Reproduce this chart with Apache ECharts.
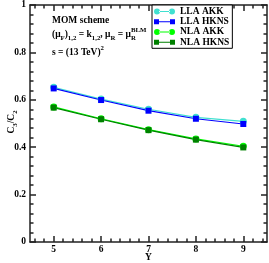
<!DOCTYPE html>
<html><head><meta charset="utf-8">
<script src="https://cdn.jsdelivr.net/npm/echarts@6/dist/echarts.min.js"></script>
<style>html,body{margin:0;padding:0;background:#fff}#c{width:269px;height:263px}</style>
</head><body><div id="c"></div>
<script>
var xValues = [5, 6, 7, 8, 9];
var llaAKK  = [0.653, 0.603, 0.560, 0.526, 0.509];
var llaHKNS = [0.648, 0.599, 0.554, 0.520, 0.498];
var nlaAKK  = [0.570, 0.520, 0.474, 0.435, 0.404];
var nlaHKNS = [0.567, 0.518, 0.472, 0.432, 0.399];
var seriesNames = ['LLA AKK', 'LLA HKNS', 'NLA AKK', 'NLA HKNS'];
var xMajor = [5, 6, 7, 8, 9];
var xTitle = 'Y';

var xMinor = [];
for (var k = 23; k <= 47; k++) { if (k % 5 !== 0) xMinor.push(Math.round(k * 2) / 10); }

var FF = "'Liberation Serif', 'DejaVu Serif', serif";
var FS = 9.5, FSS = 6.8;
var AX = '#222';

function pairs(v) { return xValues.map(function (x, i) { return [x, v[i]]; }); }

var circIcon = 'path://M0,3a3,3 0 1,0 6,0a3,3 0 1,0 -6,0Z M15,3a3,3 0 1,0 6,0a3,3 0 1,0 -6,0Z M5,2.5L16,2.5L16,3.5L5,3.5Z';
var sqIcon = 'path://M0,0.5L5,0.5L5,5.5L0,5.5Z M16,0.5L21,0.5L21,5.5L16,5.5Z M4,2.5L17,2.5L17,3.5L4,3.5Z';

function xAx(pos, vals, len, line, labels) {
  return {
    type: 'value', position: pos, min: 4.5, max: 9.5,
    axisLine: { show: line, onZero: false, lineStyle: { color: AX, width: 1.5 } },
    axisTick: { show: true, inside: true, length: len, customValues: vals, lineStyle: { color: AX, width: 1.5 } },
    axisLabel: labels ? { show: true, customValues: vals, margin: 3, color: '#000', fontFamily: FF, fontWeight: 'bold', fontSize: FS } : { show: false },
    splitLine: { show: false }
  };
}
function yAx(pos, labels) {
  return {
    type: 'value', position: pos, min: 0, max: 1, interval: 0.2,
    axisLine: { show: true, onZero: false, lineStyle: { color: AX, width: 1.5 } },
    axisTick: { show: true, inside: true, length: 6, lineStyle: { color: AX, width: 1.5 } },
    minorTick: { show: true, splitNumber: 5, length: 3.5, lineStyle: { color: AX, width: 1.5 } },
    axisLabel: labels ? { show: true, margin: 4, color: '#000', fontFamily: FF, fontWeight: 'bold', fontSize: FS } : { show: false },
    splitLine: { show: false }, minorSplitLine: { show: false }
  };
}

var colors = ['#40e0d0', '#0000ff', '#00ff00', '#008000'];
var symbols = ['circle', 'rect', 'circle', 'rect'];
var datas = [llaAKK, llaHKNS, nlaAKK, nlaHKNS];

var series = datas.map(function (d, i) {
  return {
    name: seriesNames[i], type: 'line', data: pairs(d),
    xAxisIndex: 0, yAxisIndex: 0,
    symbol: symbols[i], symbolSize: symbols[i] === 'rect' ? 6 : 7,
    itemStyle: { color: colors[i] },
    lineStyle: { color: colors[i], width: 1.2 },
    animation: false
  };
});

var rich = {
  n: { fontFamily: FF, fontWeight: 'bold', fontSize: FS, lineHeight: 14, fill: '#000' },
  s: { fontFamily: FF, fontWeight: 'bold', fontSize: FSS, lineHeight: 7, padding: [7, 0, 0, 0], fill: '#000' },
  p: { fontFamily: FF, fontWeight: 'bold', fontSize: FSS, lineHeight: 7, padding: [0, 0, 8, 0], fill: '#000' }
};

var cv = document.createElement('canvas').getContext('2d');
function tw(t, sz) { cv.font = 'bold ' + sz + 'px ' + FF; return cv.measureText(t).width; }
var line2 = [['(μ', 0], ['F', 1], [')', 0], ['1,2', 1], [' = k', 0], ['1,2', 1], [', μ', 0], ['R', 1], [' = μ', 0]];
var pre = 0;
line2.forEach(function (t) { pre += tw(t[0], t[1] ? FSS : FS); });
var TX = 52;

var chart = echarts.init(document.getElementById('c'), null, { renderer: 'canvas' });
chart.setOption({
  backgroundColor: '#fff',
  animation: false,
  grid: { left: 30, right: 2, top: 5, bottom: 21, containLabel: false, outerBoundsMode: 'none' },
  xAxis: [xAx('bottom', xMajor, 6, true, true), xAx('bottom', xMinor, 3.5, false, false),
          xAx('top', xMajor, 6, true, false), xAx('top', xMinor, 3.5, false, false)],
  yAxis: [yAx('left', true), yAx('right', false)],
  legend: {
    orient: 'vertical', left: 152, top: 5,
    padding: [1.5, 3, 1, 2], itemGap: 0, itemWidth: 21, itemHeight: 6,
    borderColor: '#000', borderWidth: 1, borderRadius: 0, backgroundColor: '#fff',
    textStyle: { fontFamily: FF, fontWeight: 'bold', fontSize: FS, color: '#000', lineHeight: 10.2 },
    data: seriesNames.map(function (n, i) { return { name: n, icon: symbols[i] === 'rect' ? sqIcon : circIcon }; })
  },
  graphic: [
    { type: 'text', left: TX, top: 16, style: { text: 'MOM scheme', font: 'bold ' + FS + 'px ' + FF, fill: '#000' } },
    { type: 'text', left: TX, top: 28, style: {
        text: '{n|(μ}{s|F}{n|)}{s|1,2}{n| = k}{s|1,2}{n|, μ}{s|R}{n| = μ}{s|R}', rich: rich, fill: '#000' } },
    { type: 'text', x: TX + pre, y: 27, style: { text: 'BLM', font: 'bold ' + FSS + 'px ' + FF, fill: '#000' } },
    { type: 'text', left: TX, top: 45, style: {
        text: '{n|s = (13 TeV)}{p|2}', rich: rich, fill: '#000' } },
    { type: 'text', x: 12, y: 122, rotation: Math.PI / 2, style: {
        text: '{n|C}{s|3}{n|/C}{s|2}', rich: rich, fill: '#000', align: 'center', verticalAlign: 'middle' } },
    { type: 'text', x: 148.5, y: 258, style: {
        text: xTitle, font: 'bold ' + FS + 'px ' + FF, fill: '#000', align: 'center', verticalAlign: 'middle' } }
  ],
  series: series
});
</script></body></html>
